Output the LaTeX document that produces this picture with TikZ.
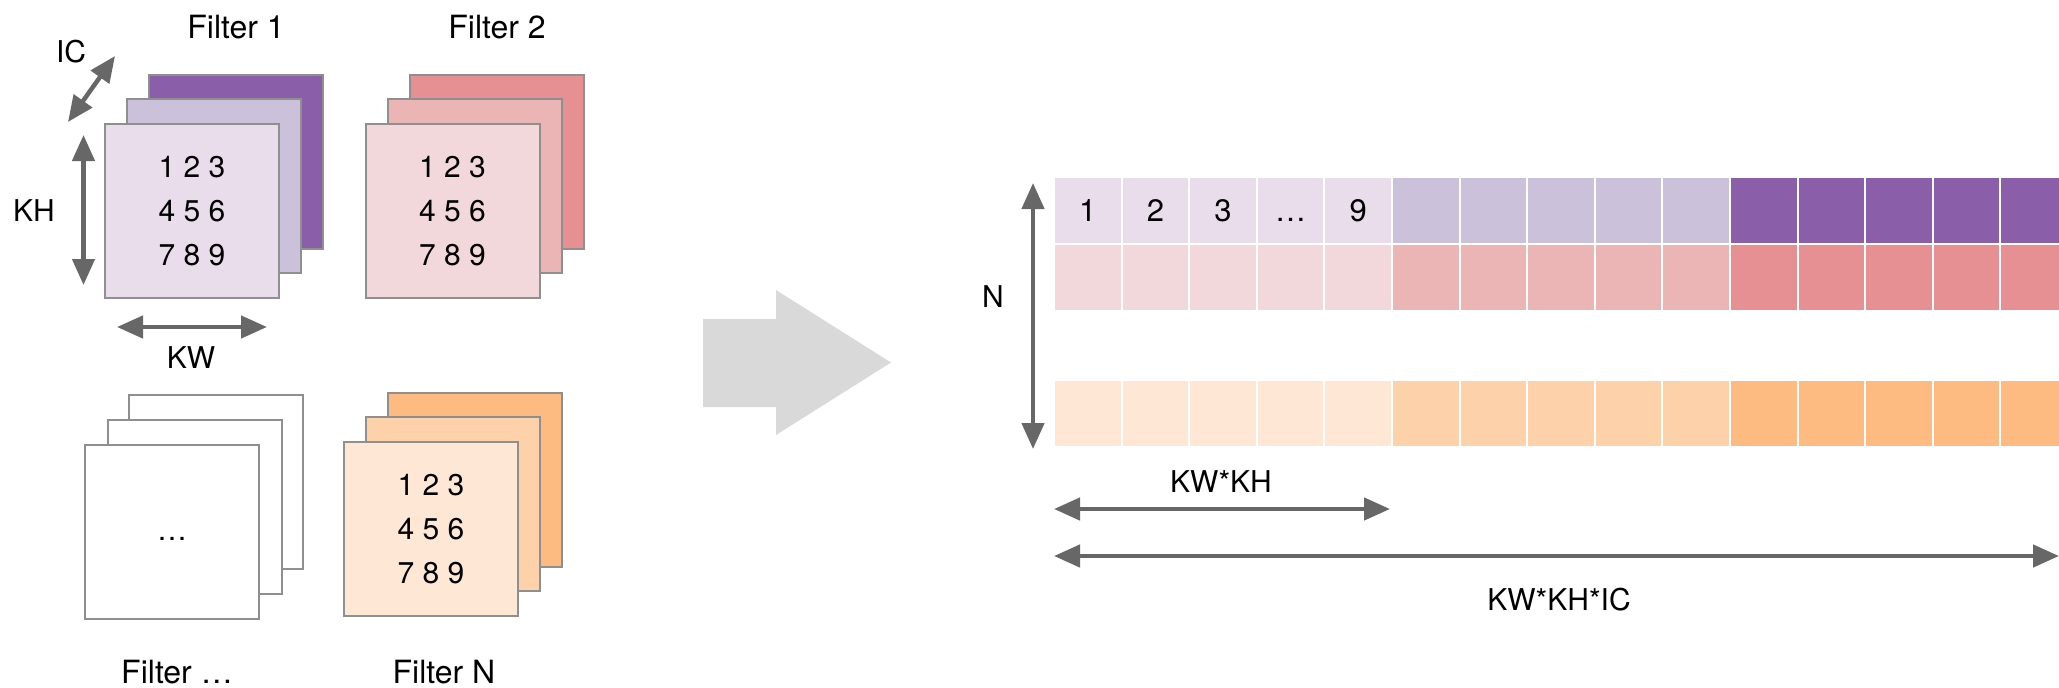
\documentclass[tikz,border=0pt]{standalone}
\usepackage{fontspec}
\setmainfont{TeX Gyre Heros}
\usetikzlibrary{arrows.meta}
\definecolor{pA}{HTML}{EADDEB}
\definecolor{pB}{HTML}{CBC1DA}
\definecolor{pC}{HTML}{8A5EA8}
\definecolor{rA}{HTML}{F2D8DB}
\definecolor{rB}{HTML}{ECB5B5}
\definecolor{rC}{HTML}{E69093}
\definecolor{oA}{HTML}{FEE8D5}
\definecolor{oB}{HTML}{FDD2AB}
\definecolor{oC}{HTML}{FDBB82}
\definecolor{bordergray}{HTML}{8F8F8F}
\definecolor{arrowgray}{HTML}{676767}
\definecolor{biggray}{HTML}{D9D9D9}
\begin{document}
\begin{tikzpicture}[x=0.5pt,y=-0.5pt,
  sq/.style={draw=bordergray, line width=1pt, minimum width=87pt, minimum height=87pt, inner sep=0pt},
  gridtxt/.style={font=\fontsize{15}{22}\selectfont, align=center},
  cell/.style={draw=white, line width=1pt, minimum width=33.8pt, minimum height=33.5pt, inner sep=0pt},
  celltxt/.style={font=\fontsize{15.5}{18}\selectfont, inner sep=0pt, anchor=base},
  lbl/.style={font=\fontsize{15}{18}\selectfont, inner sep=0pt},
  flbl/.style={font=\fontsize{16}{19}\selectfont, inner sep=0pt},
  dimarrow/.style={draw=arrowgray, line width=2.25pt, {Triangle[length=13pt,width=11pt]}-{Triangle[length=13pt,width=11pt]}}]
\useasboundingbox (0,0) rectangle (2059,687);

% ---------- Filter 1 ----------
\node[sq, fill=pC] (f1c) at (236,161.5) {};
\node[sq, fill=pB] (f1b) at (214,186) {};
\node[sq, fill=pA, gridtxt] (f1a) at (192,211) {1 2 3\\4 5 6\\7 8 9};
\node[flbl] (f1lbl) at (236,27) {Filter 1};

% ---------- Filter 2 ----------
\node[sq, fill=rC] (f2c) at (497,161.5) {};
\node[sq, fill=rB] (f2b) at (475,186) {};
\node[sq, fill=rA, gridtxt] (f2a) at (452.5,211) {1 2 3\\4 5 6\\7 8 9};
\node[flbl] (f2lbl) at (497,27) {Filter 2};

% ---------- Filter ... ----------
\node[sq, fill=white] (fdc) at (216,481.5) {};
\node[sq, fill=white] (fdb) at (194.5,507) {};
\node[sq, fill=white] (fda) at (172,531.5) {};
\node[gridtxt, inner sep=0pt, anchor=base] (fddots) at (172,540) {…};
\node[flbl] (fdlbl) at (177,672) {Filter …};

% ---------- Filter N ----------
\node[sq, fill=oC] (fnc) at (475,479.5) {};
\node[sq, fill=oB] (fnb) at (453,504) {};
\node[sq, fill=oA, gridtxt] (fna) at (431,529) {1 2 3\\4 5 6\\7 8 9};
\node[flbl] (fnlbl) at (444,672) {Filter N};

% ---------- left dimension arrows ----------
\coordinate (icA) at (68,122);
\coordinate (icB) at (115,56);
\draw[dimarrow] (icA) -- (icB);
\node[lbl] (iclbl) at (71,52) {IC};

\coordinate (khA) at (83.5,135);
\coordinate (khB) at (83.5,285);
\draw[dimarrow] (khA) -- (khB);
\node[lbl] (khlbl) at (34,211) {KH};

\coordinate (kwA) at (117,327);
\coordinate (kwB) at (267,327);
\draw[dimarrow] (kwA) -- (kwB);
\node[lbl] (kwlbl) at (191,358) {KW};

% ---------- big gray arrow ----------
\fill[biggray] (703,319) -- (776,319) -- (776,290) -- (891,362.5) -- (776,435) -- (776,407) -- (703,407) -- cycle;

% ---------- matrix cells ----------
\foreach \g/\ca/\cb/\cc in {0/pA/rA/oA, 1/pB/rB/oB, 2/pC/rC/oC} {
  \foreach \j in {0,...,4} {
    \pgfmathsetmacro{\xx}{1087.8+67.6*(5*\g+\j)}
    \node[cell, fill=\ca] (ca-\g-\j) at (\xx,210.5) {};
    \node[cell, fill=\cb] (cb-\g-\j) at (\xx,277.5) {};
    \node[cell, fill=\cc] (cc-\g-\j) at (\xx,413.5) {};
  }
}
\node[celltxt] (t1) at (ca-0-0.center |- 0,221.5) {1};
\node[celltxt] (t2) at (ca-0-1.center |- 0,221.5) {2};
\node[celltxt] (t3) at (ca-0-2.center |- 0,221.5) {3};
\node[celltxt] (t4) at (ca-0-3.center |- 0,221.5) {…};
\node[celltxt] (t9) at (ca-0-4.center |- 0,221.5) {9};

% ---------- right dimension arrows ----------
\coordinate (nA) at (1033,183);
\coordinate (nB) at (1033,449);
\draw[dimarrow] (nA) -- (nB);
\node[lbl] (nlbl) at (993,297) {N};

\coordinate (kkA) at (1054,509);
\coordinate (kkB) at (1390,509);
\draw[dimarrow] (kkA) -- (kkB);
\node[lbl] (kklbl) at (1221,482) {KW*KH};

\coordinate (kkcA) at (1054,556);
\coordinate (kkcB) at (2059,556);
\draw[dimarrow] (kkcA) -- (kkcB);
\node[lbl] (kkclbl) at (1559,600) {KW*KH*IC};
\end{tikzpicture}
\end{document}
